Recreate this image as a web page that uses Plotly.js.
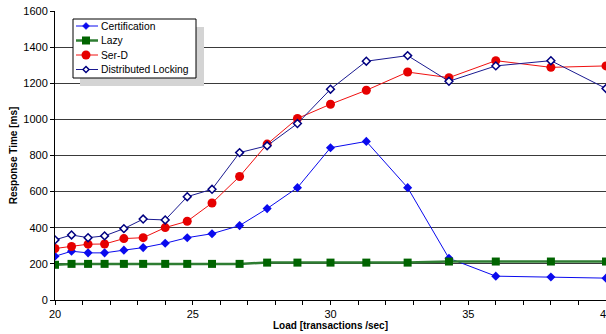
<!DOCTYPE html>
<html>
<head>
<meta charset="utf-8">
<script src="https://cdn.plot.ly/plotly-3.0.1.min.js"></script>
<style>html,body{margin:0;padding:0;background:#fff;}#chart{width:606px;height:334px;}</style>
</head>
<body>
<div id="chart"></div>
<script>
var load = [20, 20.6, 21.2, 21.8, 22.5, 23.2, 24, 24.8, 25.7, 26.7, 27.7, 28.8, 30, 31.3, 32.8, 34.3, 36, 38, 40];
var certification = [242, 270, 261, 261, 276, 290, 314, 345, 367, 412, 506, 622, 843, 878, 622, 231, 132, 127, 121];
var lazy = [195, 200, 200, 200, 200, 200, 200, 200, 200, 200, 207, 207, 207, 207, 207, 213, 213, 213, 213];
var serD = [285, 296, 309, 310, 340, 345, 401, 436, 537, 684, 863, 1005, 1084, 1161, 1262, 1231, 1325, 1288, 1296];
var distLocking = [333, 360, 345, 355, 395, 448, 443, 572, 613, 816, 854, 977, 1167, 1322, 1353, 1211, 1296, 1325, 1171];
var seriesNames = ["Certification", "Lazy", "Ser-D", "Distributed Locking"];

var styles = [
  {line: "#0a0aee", lw: 1, sym: "diamond", size: 7, fill: "#0a0aee", edge: "#0a0aee"},
  {line: "#2e7d32", lw: 2.5, sym: "square", size: 8, fill: "#006400", edge: "#006400"},
  {line: "#f01010", lw: 1, sym: "circle", size: 9, fill: "#e60000", edge: "#e60000"},
  {line: "#1a1a90", lw: 1, sym: "diamond", size: 6, fill: "#ffffff", edge: "#000080", ew: 1.5}
];
var seriesY = [certification, lazy, serD, distLocking];

var traces = seriesY.map(function (ys, i) {
  var s = styles[i];
  return {x: load, y: ys, name: seriesNames[i], mode: "lines+markers",
    line: {color: s.line, width: s.lw},
    marker: {symbol: s.sym, size: s.size, color: s.fill, line: {color: s.edge, width: s.ew || 0}}};
});

// plot area in pixels
var L = 55, R = 606, T = 11, B = 300;
function px(x) { return (x - L) / (R - L); }
function py(y) { return (B - y) / (B - T); }

var shapes = [];
var annotations = [];
// legend shadow + box
shapes.push({type: "rect", xref: "paper", yref: "paper", x0: px(80), x1: px(204), y0: py(86), y1: py(27),
  fillcolor: "#d4d4d4", line: {width: 0}, layer: "above"});
shapes.push({type: "rect", xref: "paper", yref: "paper", x0: px(73), x1: px(196), y0: py(78), y1: py(19),
  fillcolor: "#ffffff", line: {color: "#000", width: 1}, layer: "above"});
var rowY = [26, 40.5, 55, 69.5];
seriesNames.forEach(function (nm, i) {
  var s = styles[i], yy = rowY[i], cx = 86;
  shapes.push({type: "line", xref: "paper", yref: "paper", x0: px(76), x1: px(98), y0: py(yy), y1: py(yy),
    line: {color: s.line, width: s.lw}, layer: "above"});
  var h = s.size / 2;
  if (s.sym === "circle") {
    shapes.push({type: "circle", xref: "paper", yref: "paper", x0: px(cx - h), x1: px(cx + h), y0: py(yy + h), y1: py(yy - h),
      fillcolor: s.fill, line: {width: 0}, layer: "above"});
  } else if (s.sym === "square") {
    shapes.push({type: "rect", xref: "paper", yref: "paper", x0: px(cx - h), x1: px(cx + h), y0: py(yy + h), y1: py(yy - h),
      fillcolor: s.fill, line: {width: 0}, layer: "above"});
  } else {
    var p = "M" + px(cx - h) + "," + py(yy) + " L" + px(cx) + "," + py(yy - h) + " L" + px(cx + h) + "," + py(yy) +
      " L" + px(cx) + "," + py(yy + h) + " Z";
    shapes.push({type: "path", xref: "paper", yref: "paper", path: p, fillcolor: s.fill,
      line: {color: s.edge, width: s.ew || 0.5}, layer: "above"});
  }
  annotations.push({xref: "paper", yref: "paper", x: px(99), y: py(yy), xanchor: "left", yanchor: "middle",
    text: nm, showarrow: false, font: {size: 10.3, color: "#000"}});
});

var layout = {
  width: 606, height: 334,
  margin: {l: L, r: 606 - R, t: T, b: 334 - B},
  paper_bgcolor: "#fff", plot_bgcolor: "#fff",
  font: {family: "Liberation Sans, Arial, sans-serif", size: 11, color: "#000"},
  showlegend: false,
  xaxis: {range: [20, 40], dtick: 5, tick0: 20, showgrid: false, zeroline: false,
    showline: true, linecolor: "#000", linewidth: 1,
    ticks: "outside", ticklen: 4, tickcolor: "#000",
    minor: {dtick: 1, ticks: "outside", ticklen: 4, tickcolor: "#000"},
    ticklabeloverflow: "allow",
    tickfont: {size: 11},
    title: {text: "<b>Load [transactions /sec]</b>", font: {size: 10}, standoff: 0}},
  yaxis: {range: [0, 1600], dtick: 200, showgrid: true, gridcolor: "#3a3a3a", gridwidth: 1,
    zeroline: false, showline: true, linecolor: "#000", linewidth: 1,
    ticks: "outside", ticklen: 4, tickcolor: "#000",
    tickfont: {size: 11},
    title: {text: "<b>Response Time [ms]</b>", font: {size: 10}, standoff: 3}},
  shapes: shapes,
  annotations: annotations
};

Plotly.newPlot("chart", traces, layout, {displayModeBar: false, staticPlot: true});
</script>
</body>
</html>
